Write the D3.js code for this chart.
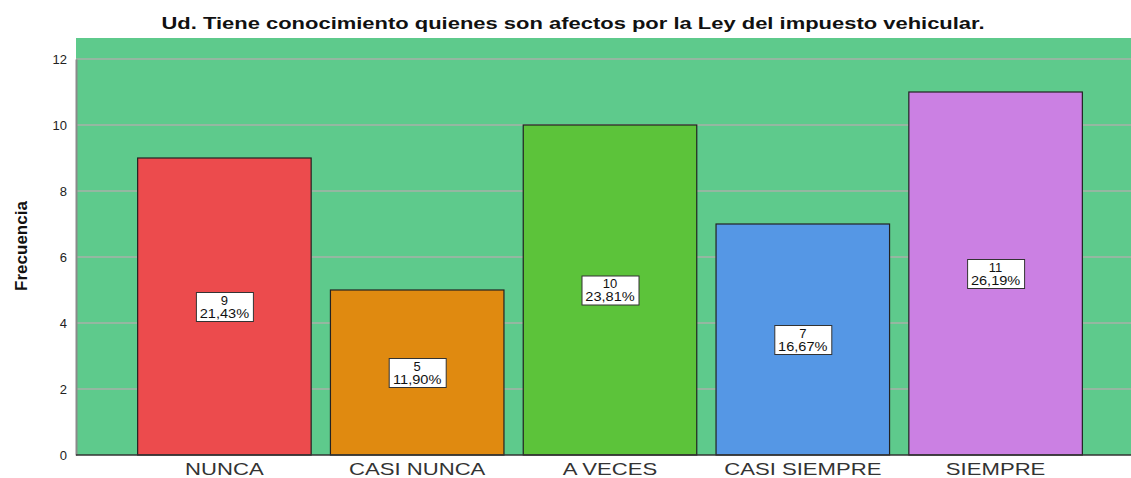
<!DOCTYPE html>
<html>
<head>
<meta charset="utf-8">
<script src="https://cdn.jsdelivr.net/npm/d3@7"></script>
<style>
  body { margin: 0; background: #fff; }
  svg text { font-family: "Liberation Sans", Arial, sans-serif; }
</style>
</head>
<body>
<script>
// data
var categories = ["NUNCA", "CASI NUNCA", "A VECES", "CASI SIEMPRE", "SIEMPRE"];
var counts = [9, 5, 10, 7, 11];
var percents = ["21,43%", "11,90%", "23,81%", "16,67%", "26,19%"];
var barColors = ["#EC4B4D", "#E08A10", "#5CC33A", "#5597E5", "#CB80E3"];
var yTicks = [0, 2, 4, 6, 8, 10, 12];

var W = 1131, H = 478;
var plot = {left: 76, right: 1131, top: 38, bottom: 455};

var svg = d3.select("body").append("svg")
    .attr("width", W)
    .attr("height", H);

var x = d3.scaleBand()
    .domain(categories)
    .range([128, 1092])
    .paddingInner(0.1)
    .paddingOuter(0.05);

var y = d3.scaleLinear()
    .domain([0, 12])
    .range([plot.bottom, plot.bottom - 396]);

// plot background
svg.append("rect")
    .attr("x", plot.left)
    .attr("y", plot.top)
    .attr("width", plot.right - plot.left)
    .attr("height", plot.bottom - plot.top)
    .attr("fill", "#5ECA8C");

// grid lines
svg.append("g")
  .selectAll("line")
  .data(yTicks.filter(d => d > 0))
  .enter().append("line")
    .attr("x1", plot.left)
    .attr("x2", plot.right)
    .attr("y1", d => y(d))
    .attr("y2", d => y(d))
    .attr("stroke", "#a9b0a8")
    .attr("stroke-width", 1.3);

// bars
svg.selectAll(".bar")
    .data(categories)
  .enter().append("rect")
    .attr("class", "bar")
    .attr("x", d => x(d))
    .attr("width", x.bandwidth())
    .attr("y", (d, i) => y(counts[i]))
    .attr("height", (d, i) => y(0) - y(counts[i]))
    .attr("fill", (d, i) => barColors[i])
    .attr("stroke", "#222")
    .attr("stroke-width", 1.2);

// value labels
var lab = svg.selectAll(".lab")
    .data(categories)
  .enter().append("g")
    .attr("class", "lab")
    .attr("transform", (d, i) => "translate(" + (x(d) + x.bandwidth() / 2) + "," + y(counts[i] / 2) + ")");

lab.append("rect")
    .attr("x", -28)
    .attr("y", -14)
    .attr("width", 57)
    .attr("height", 29)
    .attr("fill", "#fff")
    .attr("stroke", "#333")
    .attr("stroke-width", 1);

lab.append("text")
    .attr("text-anchor", "middle")
    .attr("y", -2)
    .attr("font-size", 13)
    .attr("fill", "#111")
    .text((d, i) => counts[i]);

lab.append("text")
    .attr("text-anchor", "middle")
    .attr("y", 11)
    .attr("font-size", 13)
    .attr("fill", "#111")
    .text((d, i) => percents[i])
    .each(function() {
      d3.select(this).attr("textLength", this.getComputedTextLength() * 1.12)
        .attr("lengthAdjust", "spacingAndGlyphs");
    });

// y axis
var yAxis = svg.append("g")
    .attr("transform", "translate(" + plot.left + ",0)")
    .call(d3.axisLeft(y).tickValues(yTicks).tickSize(0).tickPadding(9));
yAxis.select(".domain").attr("stroke", "#8a8a8a").attr("stroke-width", 2);
yAxis.selectAll("text").attr("font-size", 13).attr("fill", "#222")
    .style("font-family", "'Liberation Sans', Arial, sans-serif");

// x axis
var xAxis = svg.append("g")
    .attr("transform", "translate(0," + plot.bottom + ")")
    .call(d3.axisBottom(x).tickSize(0).tickPadding(8));
xAxis.select(".domain").attr("stroke", "#333").attr("stroke-width", 1.5)
    .attr("d", "M" + plot.left + ",0H" + plot.right);
xAxis.selectAll("text").attr("font-size", 17).attr("fill", "#333")
    .style("font-family", "'Liberation Sans', Arial, sans-serif")
    .each(function() {
      d3.select(this).attr("textLength", this.getComputedTextLength() * 1.3)
        .attr("lengthAdjust", "spacingAndGlyphs");
    });

// title
svg.append("text")
    .attr("x", 573)
    .attr("y", 29)
    .attr("text-anchor", "middle")
    .attr("font-size", 17)
    .attr("font-weight", "bold")
    .attr("fill", "#111")
    .attr("textLength", 823)
    .attr("lengthAdjust", "spacingAndGlyphs")
    .text("Ud. Tiene conocimiento quienes son afectos por la Ley del impuesto vehicular.");

// y axis title
svg.append("text")
    .attr("transform", "translate(27,246) rotate(-90)")
    .attr("text-anchor", "middle")
    .attr("font-size", 17)
    .attr("font-weight", "bold")
    .attr("fill", "#111")
    .style("font-family", "'Liberation Sans Narrow', 'Liberation Sans', Arial, sans-serif")
    .text("Frecuencia");
</script>
</body>
</html>
